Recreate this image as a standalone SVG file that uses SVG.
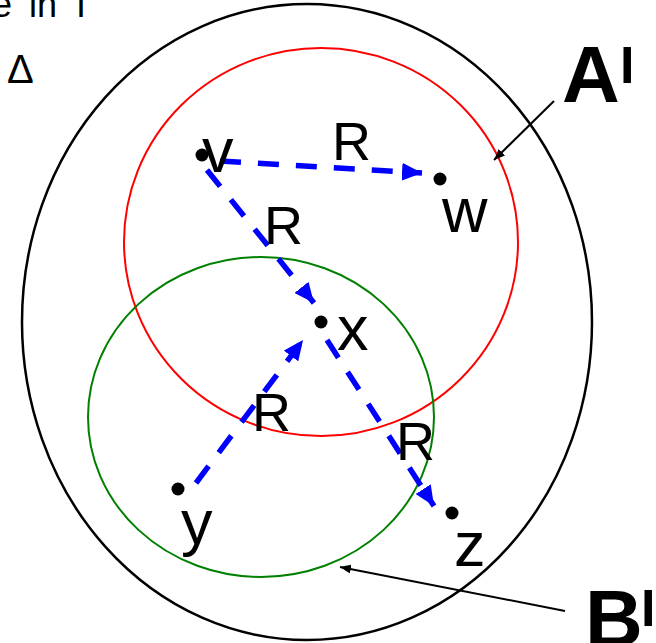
<svg xmlns="http://www.w3.org/2000/svg" width="656" height="643" viewBox="0 0 656 643">
<defs>
<style>
.t{font-family:"Liberation Sans",Arial,sans-serif;fill:#000}
.lbl{font-size:63px}
.r{font-size:54px}
.big{font-size:80px;font-weight:bold}
.rel{fill:none;stroke:#0000ff;stroke-width:5.5;stroke-dasharray:21 17;marker-end:url(#ab)}
.ptr{fill:none;stroke:#000;stroke-width:2;marker-end:url(#ak)}
.dot{fill:#000}
</style>
<marker id="ab" markerUnits="userSpaceOnUse" markerWidth="20" markerHeight="18" refX="20" refY="9" orient="auto">
<path d="M0,0 L20,9 L0,18 z" fill="#0000ff"/>
</marker>
<marker id="ak" markerUnits="userSpaceOnUse" markerWidth="11" markerHeight="9" refX="11" refY="4.5" orient="auto">
<path d="M0,0 L11,4.5 L0,9 z" fill="#000"/>
</marker>
</defs>
<rect width="656" height="643" fill="#fff"/>
<text class="t" font-size="36"><tspan x="-8" y="17">e</tspan><tspan x="29" y="17">in</tspan><tspan x="76" y="17">I</tspan></text>
<text class="t" font-size="40" x="7" y="83">Δ</text>
<g id="sets">
<ellipse id="universe" cx="307" cy="322" rx="285" ry="318" fill="none" stroke="#000" stroke-width="2.5"/>
<ellipse id="setA" cx="321" cy="242" rx="197" ry="194" fill="none" stroke="#ff0000" stroke-width="2"/>
<ellipse id="setB" cx="261" cy="417" rx="173" ry="160" fill="none" stroke="#008000" stroke-width="2"/>
</g>
<g id="connectors">
<path class="rel" d="M220,161 L422,173"/>
<path class="rel" d="M207,170 L314,303"/>
<path class="rel" d="M196,483 L303,340"/>
<path class="rel" d="M327,340 L434,506"/>
<path class="ptr" d="M554,101 L494,160"/>
<path class="ptr" d="M565,611 L340,567"/>
</g>
<g id="labels">
<text class="t r" x="332" y="160">R</text>
<text class="t r" x="264" y="244">R</text>
<text class="t r" x="252" y="431">R</text>
<text class="t r" x="396" y="460">R</text>
</g>
<g id="node-v"><circle class="dot" cx="202" cy="155" r="6.5"/><text class="t lbl" x="202" y="172">v</text></g>
<g id="node-w"><circle class="dot" cx="440" cy="179" r="6.5"/><text class="t lbl" x="442" y="232">w</text></g>
<g id="node-x"><circle class="dot" cx="321" cy="322" r="6.5"/><text class="t lbl" x="337" y="350">x</text></g>
<g id="node-y"><circle class="dot" cx="178" cy="489" r="6.5"/><text class="t lbl" x="181" y="544">y</text></g>
<g id="node-z"><circle class="dot" cx="452" cy="513" r="6.5"/><text class="t lbl" x="454" y="566">z</text></g>
<g id="label-A"><text class="t big" x="562" y="102">A<tspan font-size="52" x="620" y="83">I</tspan></text></g>
<g id="label-B"><text class="t big" x="585" y="646">B<tspan font-size="52" x="641" y="626">I</tspan></text></g>
</svg>
